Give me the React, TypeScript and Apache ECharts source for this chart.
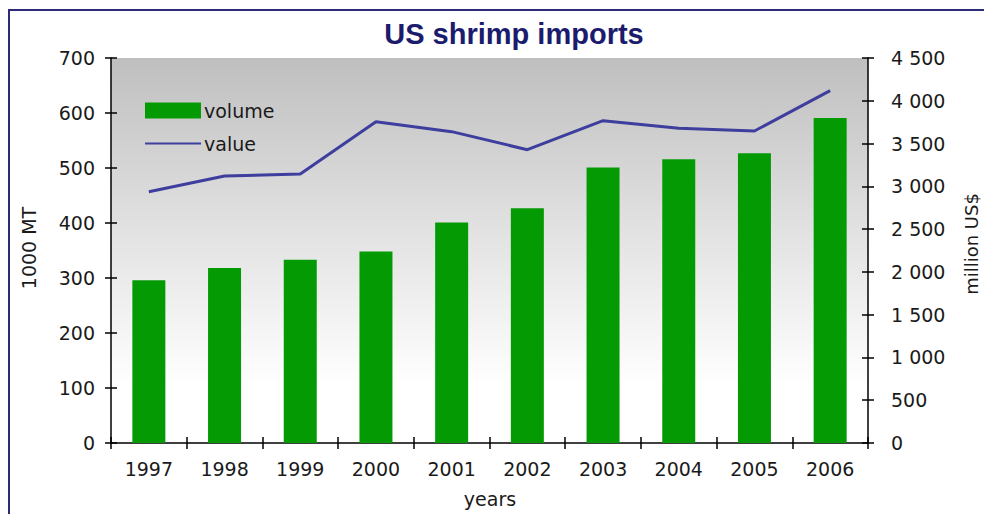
import React, { useEffect, useRef } from 'react';
import * as echarts from 'echarts';

const years = ['1997', '1998', '1999', '2000', '2001', '2002', '2003', '2004', '2005', '2006'];
const volume = [296, 318, 333, 348, 401, 427, 501, 516, 527, 591];
const value = [2937, 3121, 3144, 3755, 3639, 3428, 3767, 3678, 3647, 4118];
const leftMin = 0, leftMax = 700, leftStep = 100;
const rightMin = 0, rightMax = 4500, rightStep = 500;

const FONT = 'DejaVu Sans';

function fmtThousands(v: number): string {
  if (v >= 1000) {
    const th = Math.floor(v / 1000);
    const rest = String(v % 1000).padStart(3, '0');
    return th + ' ' + rest;
  }
  return String(v);
}

export default function App() {
  const ref = useRef<HTMLDivElement>(null);
  useEffect(() => {
    document.body.style.margin = '0';
    const chart = echarts.init(ref.current!, null, { renderer: 'svg' });
    const axisLine = { show: true, lineStyle: { color: '#000', width: 1.5 } };
    const tickOut = { show: true, length: 6, lineStyle: { color: '#000', width: 1.5 } };
    const tickIn = { show: true, inside: true, length: 6, lineStyle: { color: '#000', width: 1.5 } };
    const labelStyle = { color: '#1a1a1a', fontFamily: FONT, fontSize: 19 };
    chart.setOption({
      animation: false,
      backgroundColor: '#ffffff',
      textStyle: { fontFamily: FONT },
      title: {
        text: 'US shrimp imports',
        left: 509,
        textAlign: 'center',
        top: 14,
        textStyle: { fontFamily: 'Liberation Sans', fontWeight: 'bold', fontSize: 29, color: '#1c1c6e' },
      },
      graphic: [
        {
          type: 'rect',
          shape: { x: 9, y: 10, width: 1000, height: 600 },
          style: { fill: 'none', stroke: '#2b2b78', lineWidth: 2 },
          silent: true,
          z: 100,
        },
        {
          type: 'text',
          x: 29,
          y: 248,
          rotation: Math.PI / 2,
          style: { text: '1000 MT', fill: '#1a1a1a', font: `19px "${FONT}"`, align: 'center', verticalAlign: 'middle' },
        },
        {
          type: 'text',
          x: 971,
          y: 244,
          rotation: Math.PI / 2,
          style: { text: 'million US$', fill: '#1a1a1a', font: `18px "${FONT}"`, align: 'center', verticalAlign: 'middle' },
        },
        {
          type: 'text',
          x: 490,
          y: 499,
          style: { text: 'years', fill: '#1a1a1a', font: `19px "${FONT}"`, align: 'center', verticalAlign: 'middle' },
        },
      ],
      legend: {
        orient: 'vertical',
        left: 144,
        top: 101,
        padding: 0,
        itemWidth: 56,
        itemHeight: 16,
        itemGap: 14,
        textStyle: { color: '#1a1a1a', fontFamily: FONT, fontSize: 19, padding: [0, 0, 0, -2] },
        data: [
          { name: 'volume', icon: 'rect' },
          { name: 'value', itemStyle: { opacity: 0 } },
        ],
      },
      grid: {
        left: 111,
        right: 116,
        top: 58,
        bottom: 71,
        show: true,
        borderWidth: 0,
        backgroundColor: new echarts.graphic.LinearGradient(0, 0, 0, 1, [
          { offset: 0, color: '#bfbfbf' },
          { offset: 0.45, color: '#e2e2e2' },
          { offset: 0.85, color: '#ffffff' },
          { offset: 1, color: '#ffffff' },
        ]),
      },
      xAxis: [
        {
          type: 'category',
          data: years,
          position: 'bottom',
          boundaryGap: true,
          axisLine,
          axisTick: tickOut,
          axisLabel: { ...labelStyle, margin: 16 },
          splitLine: { show: false },
        },
        {
          type: 'category',
          data: years,
          position: 'bottom',
          boundaryGap: true,
          axisLine: { show: false },
          axisTick: tickIn,
          axisLabel: { show: false },
          splitLine: { show: false },
        },
      ],
      yAxis: [
        {
          type: 'value',
          position: 'left',
          min: leftMin,
          max: leftMax,
          interval: leftStep,
          axisLine,
          axisTick: tickOut,
          axisLabel: { ...labelStyle, margin: 16 },
          splitLine: { show: false },
        },
        {
          type: 'value',
          position: 'right',
          min: rightMin,
          max: rightMax,
          interval: rightStep,
          axisLine,
          axisTick: tickOut,
          axisLabel: { ...labelStyle, margin: 23, formatter: (v: number) => fmtThousands(v) },
          splitLine: { show: false },
        },
        {
          type: 'value',
          position: 'left',
          min: leftMin,
          max: leftMax,
          interval: leftStep,
          axisLine: { show: false },
          axisTick: tickIn,
          axisLabel: { show: false },
          splitLine: { show: false },
        },
        {
          type: 'value',
          position: 'right',
          min: rightMin,
          max: rightMax,
          interval: rightStep,
          axisLine: { show: false },
          axisTick: tickIn,
          axisLabel: { show: false },
          splitLine: { show: false },
        },
      ],
      series: [
        {
          name: 'volume',
          type: 'bar',
          xAxisIndex: 0,
          yAxisIndex: 0,
          data: volume,
          barWidth: 33,
          itemStyle: { color: '#049a04' },
          z: 2,
        },
        {
          name: 'value',
          type: 'line',
          xAxisIndex: 0,
          yAxisIndex: 1,
          data: value,
          symbol: 'none',
          lineStyle: { color: '#3e3e9e', width: 3 },
          itemStyle: { color: '#3e3e9e' },
          z: 3,
        },
      ],
    });
    return () => chart.dispose();
  }, []);
  return <div ref={ref} style={{ position: 'absolute', left: 0, top: 0, width: 984, height: 514 }} />;
}
